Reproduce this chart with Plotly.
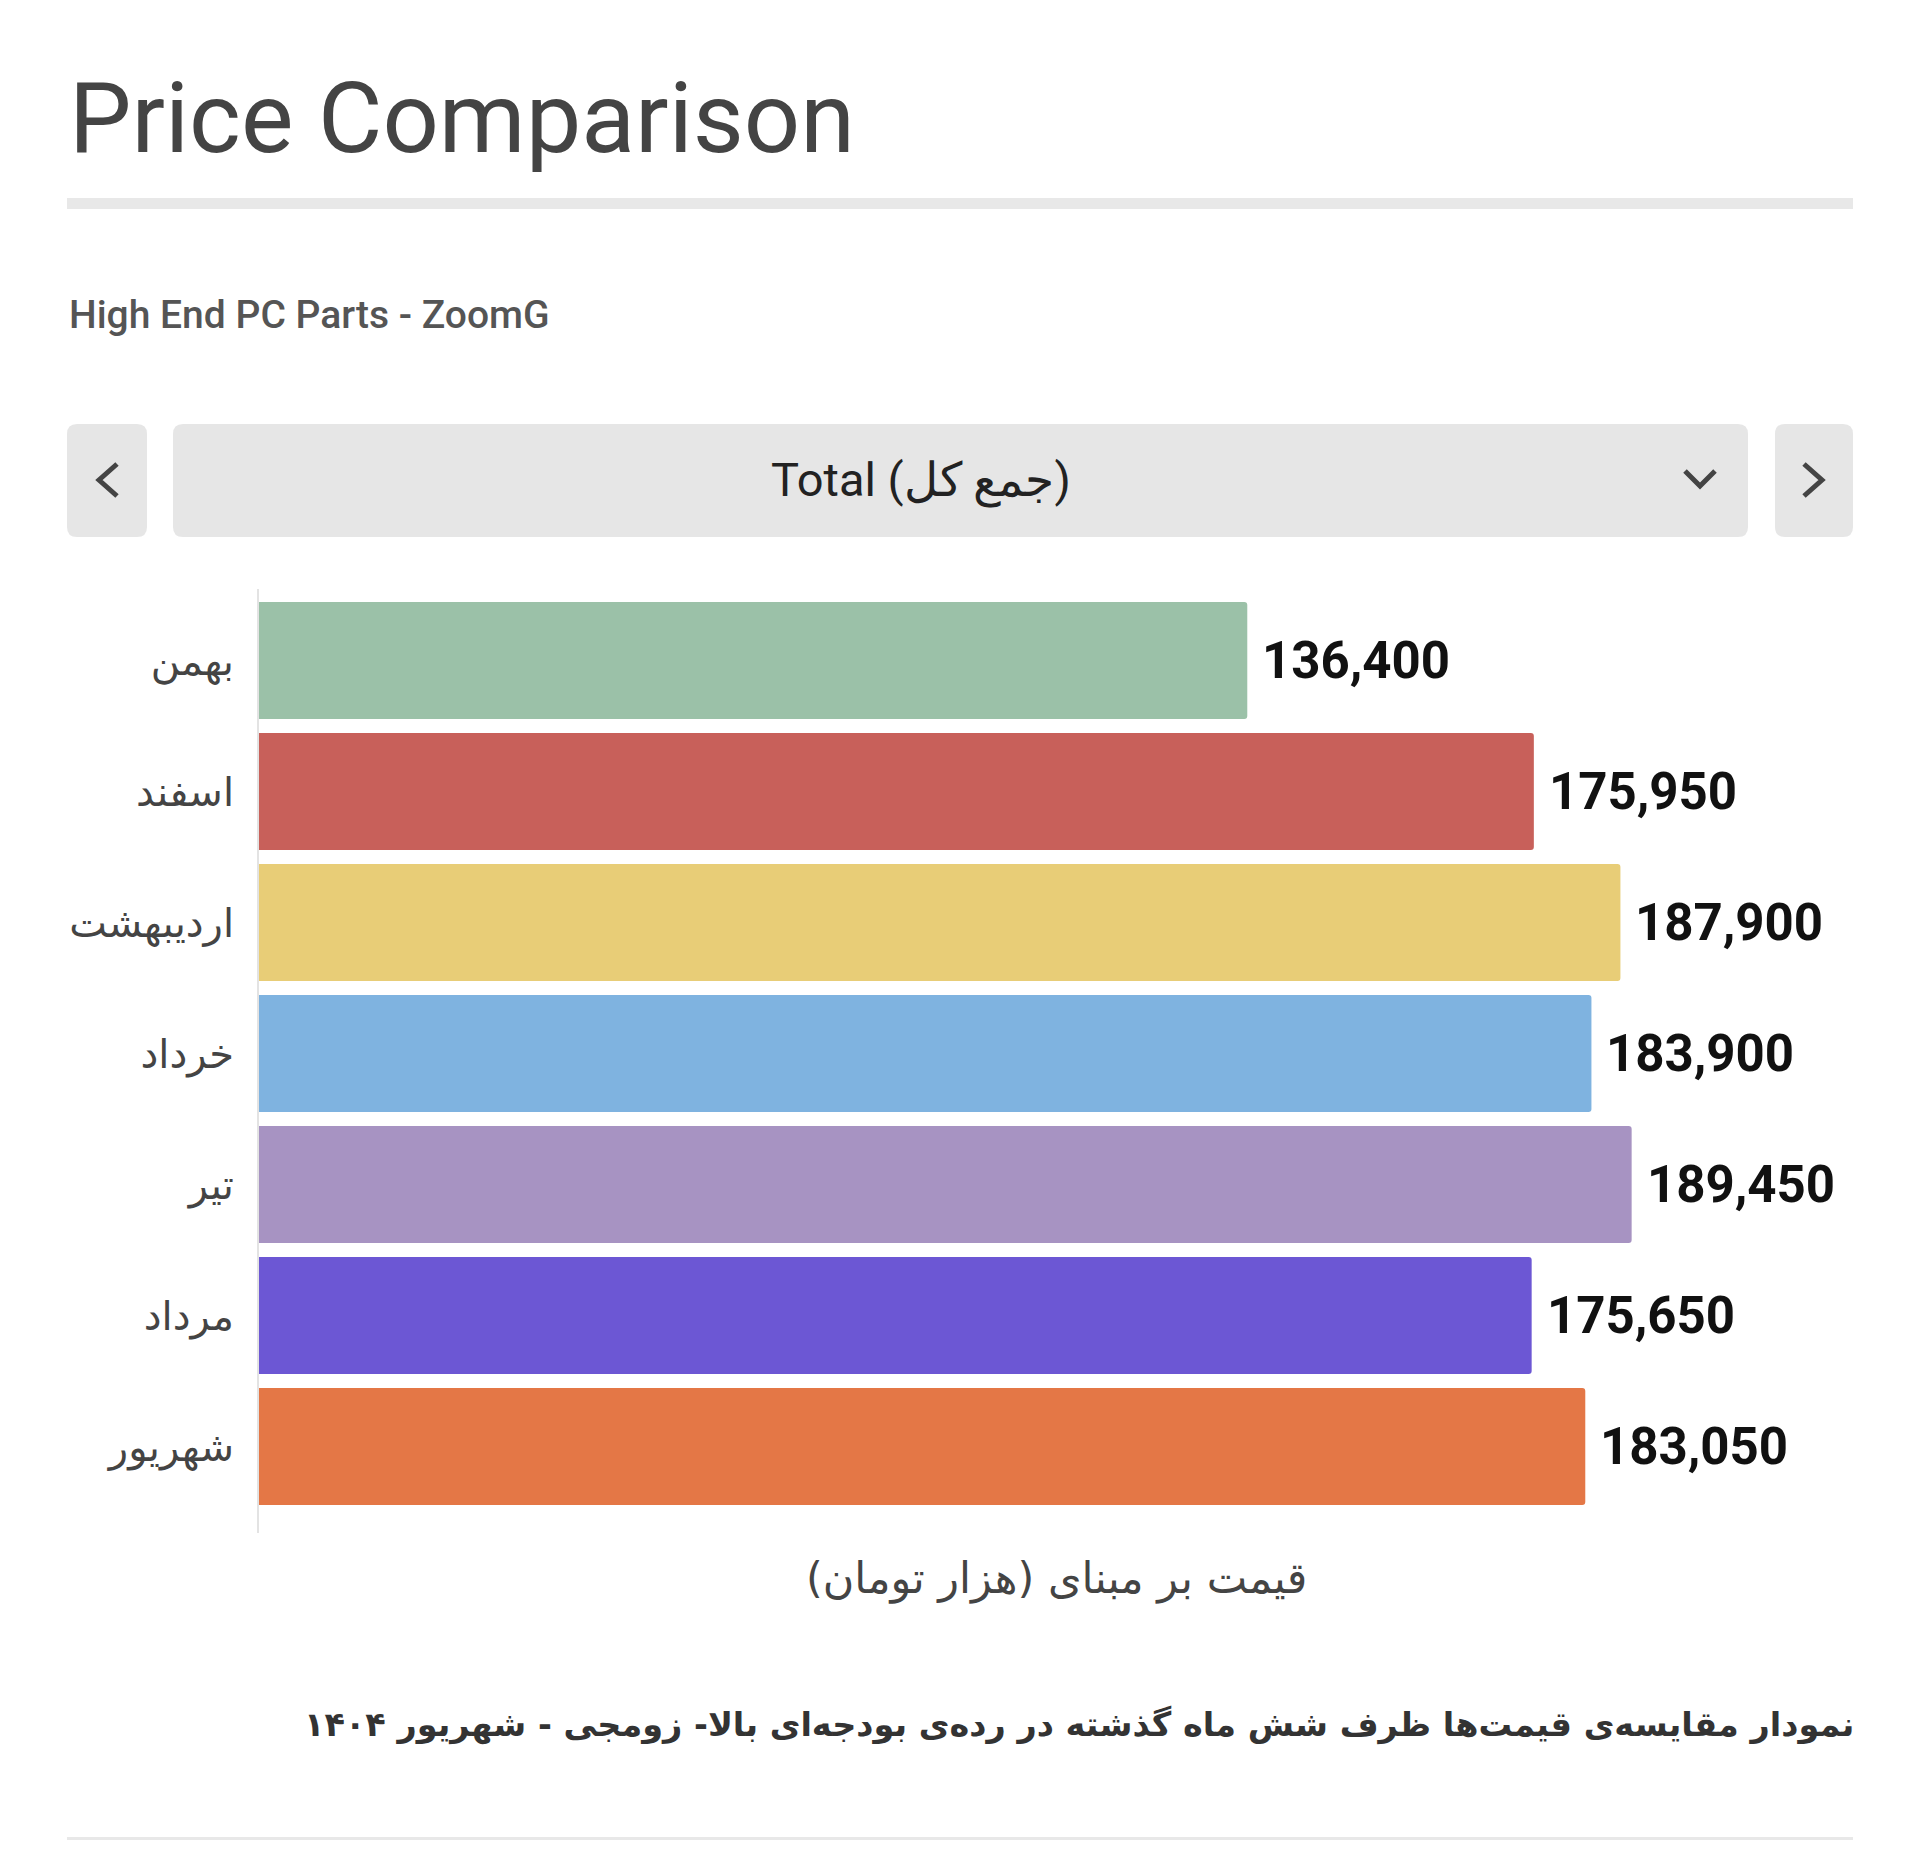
import plotly.graph_objects as go

# data
months = ["بهمن", "اسفند", "اردیبهشت", "خرداد", "تیر", "مرداد", "شهریور"]
prices = [136400, 175950, 187900, 183900, 189450, 175650, 183050]
bar_colors = ["#9bc1a8", "#c8605a", "#e8cd77", "#7fb3e0", "#a793c2", "#6c57d4", "#e47746"]

title_text = "Price Comparison"
subtitle_text = "High End PC Parts - ZoomG"
dropdown_text = "Total (جمع کل)"
x_title = "قیمت بر مبنای (هزار تومان)\u200f"
caption = ("نمودار مقایسه\u200cی قیمت\u200cها ظرف شش ماه گذشته در رده\u200cی "
           "بودجه\u200cای بالا- زومجی - شهریور ۱۴۰۴")

W, H = 1920, 1857
OFF = 8  # default body margin of the page
# plot box in page pixels
L, R, T, B = 259, 1853, 589, 1533


def px(x):
    return (x - L) / (R - L)


def py(y):
    return (B - y) / (B - T)


def rrect(x0, y0, x1, y1, r):
    return (f"M{px(x0 + r)},{py(y0)} L{px(x1 - r)},{py(y0)} "
            f"Q{px(x1)},{py(y0)} {px(x1)},{py(y0 + r)} L{px(x1)},{py(y1 - r)} "
            f"Q{px(x1)},{py(y1)} {px(x1 - r)},{py(y1)} L{px(x0 + r)},{py(y1)} "
            f"Q{px(x0)},{py(y1)} {px(x0)},{py(y1 - r)} L{px(x0)},{py(y0 + r)} "
            f"Q{px(x0)},{py(y0)} {px(x0 + r)},{py(y0)} Z")


def polyline(pts):
    return "M" + " L".join(f"{px(a)},{py(b)}" for a, b in pts)


fig = go.Figure()
fig.add_trace(go.Bar(
    x=prices, y=months, orientation="h",
    marker=dict(color=bar_colors, cornerradius=3, line=dict(width=0)),
    width=0.893, hoverinfo="x+y", showlegend=False,
))

shapes = []
grey = "#e6e6e6"
shapes.append(dict(type="rect", xref="paper", yref="paper", x0=px(67), x1=px(1853),
                   y0=py(198), y1=py(209), fillcolor="#e8e8e8", line=dict(width=0)))
shapes.append(dict(type="rect", xref="paper", yref="paper", x0=px(67), x1=px(1853),
                   y0=py(1837), y1=py(1840), fillcolor="#e8e8e8", line=dict(width=0)))
for bx0, bx1 in [(67, 147), (173, 1748), (1775, 1853)]:
    shapes.append(dict(type="path", xref="paper", yref="paper",
                       path=rrect(bx0, 424, bx1, 537, 10),
                       fillcolor=grey, line=dict(width=0)))
chev = dict(color="#444444", width=5)
for pts in [[(117, 464), (99, 480), (117, 496)],
            [(1804, 464), (1822, 480), (1804, 496)],
            [(1685, 471), (1700, 486), (1715, 471)]]:
    shapes.append(dict(type="path", xref="paper", yref="paper",
                       path=polyline(pts), line=chev))

annotations = [
    dict(text=title_text, x=px(67), y=py(118), xanchor="left", yanchor="middle",
         font=dict(family="Roboto", size=99, color="#444444")),
    dict(text=subtitle_text, x=px(67), y=py(315), xanchor="left", yanchor="middle",
         font=dict(family="Roboto", size=39, color="#555555", weight=500)),
    dict(text=dropdown_text, x=px(921), y=py(480), xanchor="center", yanchor="middle",
         font=dict(family="Roboto", size=47, color="#222222")),
    dict(text=x_title, x=px(1056), y=py(1578), xanchor="center", yanchor="middle",
         font=dict(family="DejaVu Sans", size=43, color="#444444")),
    dict(text=caption, x=px(1856), y=py(1725), xanchor="right", yanchor="middle",
         font=dict(family="DejaVu Sans", size=33.5, color="#333333", weight="bold")),
]
for a in annotations:
    a.update(xref="paper", yref="paper", showarrow=False)

# value labels next to each bar
for m, v in zip(months, prices):
    annotations.append(dict(
        x=v, y=m, xref="x", yref="y", text=f"{v:,}", showarrow=False,
        xanchor="left", yanchor="middle", xshift=13,
        font=dict(family="Roboto", size=51, color="#111111", weight="bold"),
    ))

fig.update_layout(
    width=W - 2 * OFF, height=H - 2 * OFF,
    margin=dict(l=L - OFF, r=W - R - OFF, t=T - OFF, b=H - B - OFF, pad=0),
    paper_bgcolor="white", plot_bgcolor="white",
    shapes=shapes, annotations=annotations,
    xaxis=dict(range=[0, 220000], showgrid=False, zeroline=False,
               showticklabels=False, showline=False),
    yaxis=dict(type="category", categoryorder="array", categoryarray=months,
               range=[6.66, -0.546], showgrid=False, zeroline=False,
               showline=True, linecolor="#e3e3e3", linewidth=2, ticks="",
               ticklabelstandoff=15,
               tickfont=dict(family="DejaVu Sans", size=40, color="#444444")),
    bargap=0.107,
)

fig.write_html("out.html")
